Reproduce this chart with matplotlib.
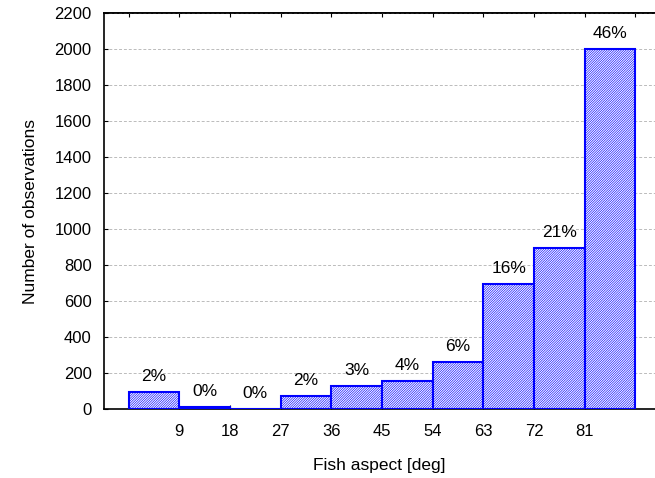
import numpy as np
import matplotlib
matplotlib.use("Agg")
import matplotlib.pyplot as plt

# Histogram data
bin_edges = [0, 9, 18, 27, 36, 45, 54, 63, 72, 81, 90]
counts = [93, 13, 2, 74, 126, 155, 263, 695, 895, 2000]
tick_labels = ["9", "18", "27", "36", "45", "54", "63", "72", "81"]

plt.rcParams['font.family'] = ['Liberation Sans', 'DejaVu Sans']
plt.rcParams['hatch.linewidth'] = 0.45
plt.rcParams['hatch.color'] = '#4040ff'

fig = plt.figure(figsize=(6.55, 4.78), dpi=100)
ax = fig.add_axes([0.159, 0.144, 0.841, 0.829])

left = np.array(bin_edges[:-1])
width = np.diff(bin_edges)
bars = ax.bar(left, counts, width=width, align='edge', facecolor='white',
              edgecolor='#0000ff', linewidth=1.5, hatch='//////////////', zorder=3)

# percentage labels above the bars
total = sum(counts)
for x, w, c in zip(left, width, counts):
    pct = int(round(100.0 * c / total))
    ax.text(x + w / 2, c + 45, f"{pct}%", ha='center', va='bottom',
            fontsize=12.5, zorder=4)

ax.set_xlim(-4.35, 93.5)
ax.set_ylim(0, 2200)
ax.set_yticks(np.arange(0, 2201, 200))
ax.set_xticks(bin_edges[1:-1])
ax.set_xticklabels(tick_labels)
ax.tick_params(axis='both', direction='in', length=3, labelsize=12)
ax.tick_params(axis='x', pad=11)
ax.tick_params(axis='y', pad=9)

# ticks along the top spine at every bin edge
sec = ax.secondary_xaxis('top')
sec.set_xticks(bin_edges)
sec.tick_params(direction='in', length=3, labeltop=False)
sec.spines['top'].set_linewidth(1.2)

ax.spines['right'].set_visible(False)
ax.spines['left'].set_linewidth(1.2)
ax.spines['bottom'].set_linewidth(1.2)
ax.spines['top'].set_linewidth(1.2)

ax.yaxis.grid(True, linestyle=(0, (3, 2)), color='#bbbbbb', linewidth=0.7, zorder=0)
ax.set_axisbelow(True)

ax.set_xlabel('Fish aspect [deg]', fontsize=12.5, labelpad=13)
ax.set_ylabel('Number of observations', fontsize=12.5, labelpad=12)

plt.savefig('out.png', dpi=100)
